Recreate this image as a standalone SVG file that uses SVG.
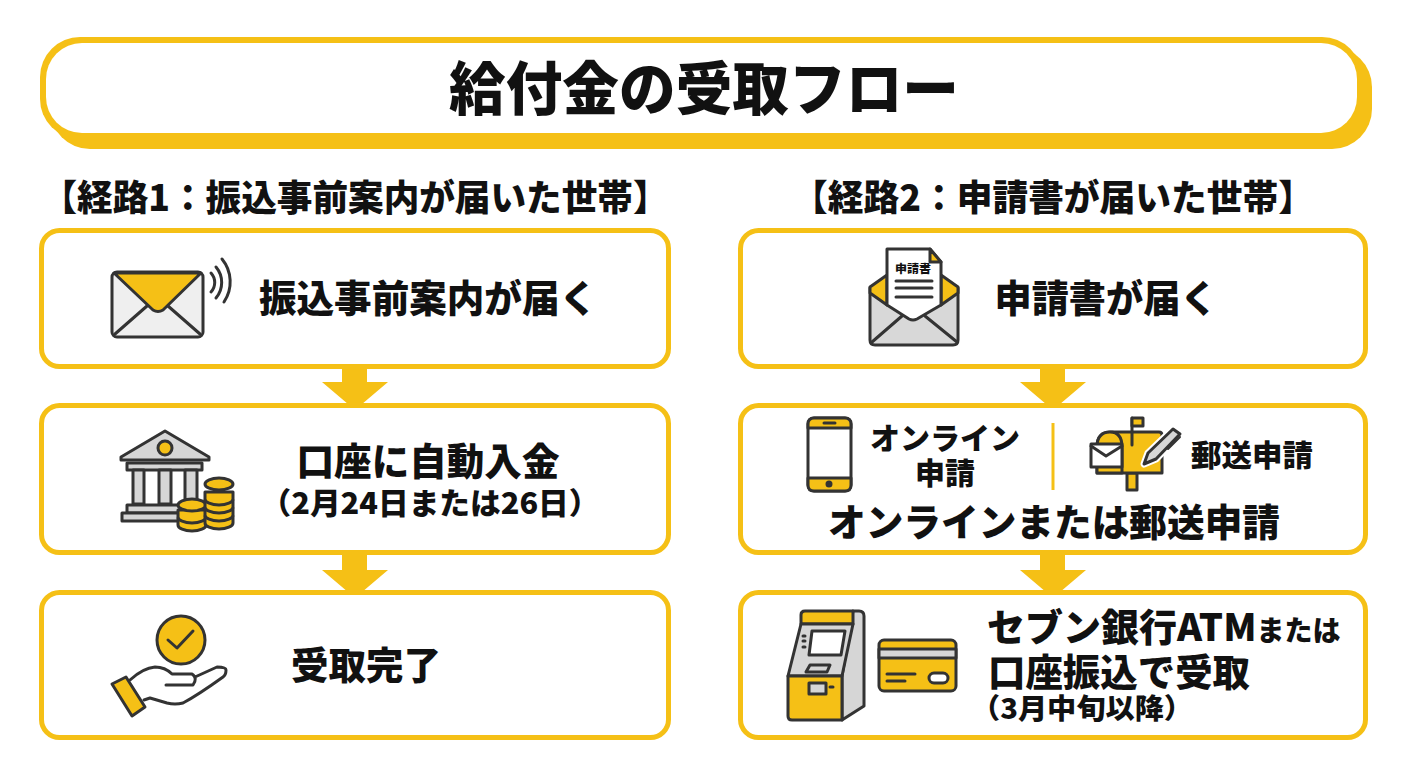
<svg xmlns="http://www.w3.org/2000/svg" width="1408" height="768" viewBox="0 0 1408 768">
<defs>
<style>
text{font-family:"Noto Sans CJK JP","Noto Sans",sans-serif;font-weight:900;fill:#111;text-anchor:middle}
.box{fill:#fff;stroke:#F5C016;stroke-width:5}
.ic{stroke:#333;stroke-width:3;stroke-linejoin:round;stroke-linecap:round}
.y{fill:#F5C016}.g{fill:#d6d6d6}.w{fill:#fff}.n{fill:none}
.arrow{fill:#F5C016}
.t38{font-size:38px}.t30{font-size:30px}.t36{font-size:36px}
</style>
<g id="coin"><path d="M-14 0v7a14 6 0 0 0 28 0v-7z" class="ic y"/></g>
</defs>
<rect width="1408" height="768" fill="#fff"/>

<g id="connectors">
<path id="a1" class="arrow" d="M342 367h25v15h21l-33 28l-33-28h20z"/>
<path id="a2" class="arrow" d="M342 554h25v16h21l-33 28l-33-28h20z"/>
<path id="a3" class="arrow" d="M1040 367h25v15h21l-33 28l-33-28h20z"/>
<path id="a4" class="arrow" d="M1040 554h25v16h21l-33 28l-33-28h20z"/>
</g>

<g id="title">
<rect x="40" y="37" width="1322" height="102" rx="40" fill="#F5C016"/>
<rect x="50" y="47" width="1322" height="102" rx="40" fill="#F5C016"/>
<rect x="46" y="43" width="1311" height="90" rx="36" fill="#fff"/>
<text x="704" y="110" font-size="58" textLength="510" lengthAdjust="spacingAndGlyphs">給付金の受取フロー</text>
</g>

<g id="header1"><text class="t36" x="355" y="211" textLength="627" lengthAdjust="spacingAndGlyphs">【経路1：振込事前案内が届いた世帯】</text></g>
<g id="header2"><text class="t36" x="1053" y="211" textLength="522" lengthAdjust="spacingAndGlyphs">【経路2：申請書が届いた世帯】</text></g>

<g id="node-l1">
<rect class="box" x="41.500" y="230.500" width="627" height="136" rx="18"/>
<g class="ic">
<rect x="112" y="272" width="91" height="65" rx="5" fill="#efefef"/>
<path class="n" d="M115 334l32-28M200 334l-32-28"/>
<path class="y" d="M114 273h87l-38 37q-5 3-10 0z"/>
<path class="n" d="M211 273a14 14 0 0 1 0 19M216 267a24 24 0 0 1 0 31M222 259a36 36 0 0 1 2 43"/>
</g>
<text class="t38" x="428" y="312" textLength="338" lengthAdjust="spacingAndGlyphs">振込事前案内が届く</text>
</g>

<g id="node-l2">
<rect class="box" x="41.500" y="405.500" width="627" height="147" rx="18"/>
<g class="ic">
<path class="g" d="M165 431l44 26v3h-88v-3z"/>
<circle class="y" cx="165" cy="448" r="7"/>
<rect class="g" x="127" y="463" width="75" height="7"/>
<rect class="g" x="133" y="470" width="11" height="34"/>
<rect class="g" x="159" y="470" width="12" height="34"/>
<rect class="g" x="185" y="470" width="12" height="34"/>
<rect class="g" x="127" y="505" width="60" height="8"/>
<rect class="g" x="122" y="513" width="60" height="8"/>
<use href="#coin" x="192" y="518"/>
<use href="#coin" x="192" y="510"/>
<ellipse class="y" cx="192" cy="505" rx="14" ry="6"/>
<use href="#coin" x="219" y="516"/>
<use href="#coin" x="219" y="508"/>
<use href="#coin" x="219" y="500"/>
<use href="#coin" x="219" y="492"/>
<ellipse class="y" cx="219" cy="484" rx="14" ry="6"/>
</g>
<text class="t38" x="428" y="475" textLength="263" lengthAdjust="spacingAndGlyphs">口座に自動入金</text>
<text x="430" y="514" font-size="30" textLength="339" lengthAdjust="spacingAndGlyphs">（2月24日または26日）</text>
</g>

<g id="node-l3">
<rect class="box" x="41.500" y="592.500" width="627" height="145" rx="18"/>
<g class="ic">
<circle class="y" cx="181" cy="640" r="24"/>
<path class="n" d="M168 640l9 8l16-17"/>
<path class="n" d="M130 680q13-12 25-13q10 0 17 7h20q6 4 1 11h-27M195 677l22-10q9 0 9 3q0 5-3 7q-25 18-40 26q-8 2-16 0l-17-5l-6 2"/>
<path class="y" d="M112 684l14-7l19 30l-13 9z"/>
</g>
<text class="t38" x="366" y="679" textLength="150" lengthAdjust="spacingAndGlyphs">受取完了</text>
</g>

<g id="node-r1">
<rect class="box" x="740.500" y="230.500" width="625" height="136" rx="18"/>
<g class="ic">
<path fill="#d8d8d8" d="M870 288l44-30l44 30v52q0 5-5 5h-78q-5 0-5-5z"/>
<path class="y" d="M870 287l17-12v30l-17-12zM958 287l-17-12v30l17-12z"/>
<path class="w" d="M887 249h43l11 13v43l-24 14q-4 2-8 0l-22-14z"/>
<path class="y" d="M930 249l11 13h-11z"/>
<path class="n" d="M896 281h36M896 288h36M896 297h36M872 342l30-26M925 316l32 26"/>
</g>
<text x="913" y="273" font-size="11" textLength="36" lengthAdjust="spacingAndGlyphs">申請書</text>
<text class="t38" x="1106" y="312" textLength="223" lengthAdjust="spacingAndGlyphs">申請書が届く</text>
</g>

<g id="node-r2">
<rect class="box" x="740.500" y="405.500" width="625" height="147" rx="18"/>
<g class="ic">
<rect class="w" x="808" y="418" width="43" height="73" rx="6"/>
<path class="y" d="M808 428v-4q0-6 6-6h31q6 0 6 6v4zM808 478h43v7q0 6-6 6h-31q-6 0-6-6z"/>
<path class="n" d="M824 423h11"/>
<circle cx="829" cy="484" r="2" fill="#333"/>
</g>
<text class="t30" x="945" y="449" textLength="150" lengthAdjust="spacingAndGlyphs">オンライン</text>
<text class="t30" x="945" y="484" textLength="60" lengthAdjust="spacingAndGlyphs">申請</text>
<line x1="1053" y1="423" x2="1053" y2="490" stroke="#F5C016" stroke-width="3"/>
<g class="ic">
<rect class="y" x="1127" y="473" width="10" height="17"/>
<path class="y" d="M1097 473v-26q0-15 15-15h47q3 0 3 3v38z"/>
<path class="y" d="M1097 473v-26q0-15 13-15q12 0 12 15v26z"/>
<path class="n" d="M1132 445v-27"/>
<path class="y" d="M1132 418h11v8h-11z"/>
<path class="w" d="M1091 444h31v23h-31z"/>
<path class="n" d="M1091 446l15 10l16-10"/>
<path fill="#d6d6d6" stroke="#fff" stroke-width="7" d="M1144 464l4-11l25-24l7 5l-24 25z"/>
<path fill="#d6d6d6" d="M1144 464l4-11l25-24l7 5l-24 25z"/>
<path class="n" d="M1168 449l12-12" stroke-width="2"/>
</g>
<text class="t30" x="1252" y="466" textLength="122" lengthAdjust="spacingAndGlyphs">郵送申請</text>
<text class="t38" x="1054" y="536" textLength="452" lengthAdjust="spacingAndGlyphs">オンラインまたは郵送申請</text>
</g>

<g id="node-r3">
<rect class="box" x="740.500" y="592.500" width="625" height="145" rx="18"/>
<g class="ic">
<path fill="#d6d6d6" d="M853 611h6q5 0 5 5v90l-22 14v-44z"/>
<path class="y" d="M801 624v-9q0-4 4-4h48v13z"/>
<path fill="#d6d6d6" d="M801 624h52l-11 52h-54z"/>
<path class="w" d="M812 631h33l-4 24h-32z"/>
<path class="g" d="M810 665h20l-3 7h-21z"/>
<path class="n" d="M803 636h2M803 641h2M803 647h2"/>
<path class="y" d="M788 676h54v44h-50q-4 0-4-4z"/>
<rect class="g" x="809" y="683" width="17" height="11"/>
<path class="n" d="M830 687h3"/>
<rect class="y" x="879" y="640" width="77" height="51" rx="5"/>
<rect class="g" x="879" y="649" width="77" height="9"/>
<path class="n" d="M887 674h28M887 681h18"/>
<rect class="w" x="929" y="673" width="19" height="10" rx="5"/>
</g>
<text class="t38" x="987" y="641" style="text-anchor:start">セブン銀行ATM<tspan font-size="28">または</tspan></text>
<text class="t38" x="1119" y="686" textLength="262" lengthAdjust="spacingAndGlyphs">口座振込で受取</text>
<text x="1082" y="719" font-size="28" textLength="222" lengthAdjust="spacingAndGlyphs">（3月中旬以降）</text>
</g>
</svg>
